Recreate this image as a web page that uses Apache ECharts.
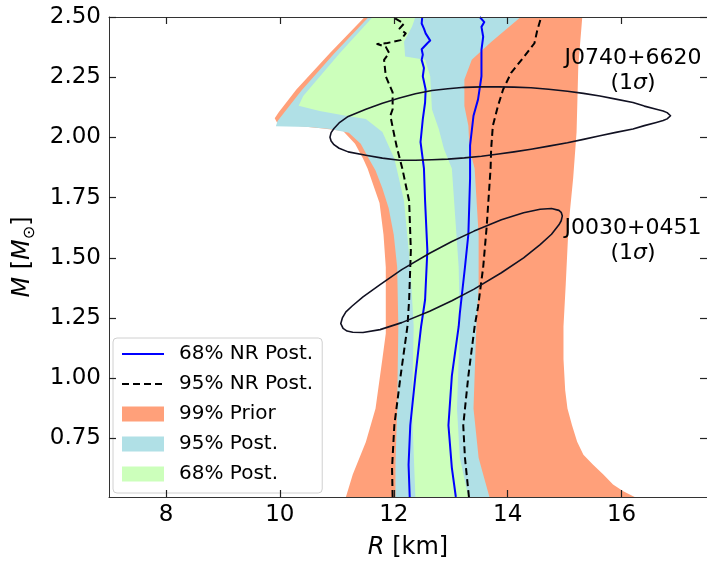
<!DOCTYPE html>
<html>
<head>
<meta charset="utf-8">
<script src="https://cdn.jsdelivr.net/npm/echarts@6/dist/echarts.min.js"></script>
<style>html,body{margin:0;padding:0;background:#fff}#c{width:707px;height:565px}</style>
</head>
<body>
<div id="c"></div>
<script>
// ---- tick labels ----
const xTicks = [8, 10, 12, 14, 16];
const yTicks = [0.75, 1.00, 1.25, 1.50, 1.75, 2.00, 2.25, 2.50];

// ---- 99% prior band [R, M] ----
const priorLeft = [[11.16,0.507],[11.28,0.600],[11.51,0.735],[11.68,0.874],[11.80,1.080],[11.86,1.186],[11.86,1.461],[11.82,1.596],[11.75,1.728],[11.66,1.789],[11.54,1.871],[11.46,1.912],[11.32,1.974],[11.11,2.027],[10.76,2.037],[10.24,2.050],[9.95,2.062],[9.91,2.080],[9.98,2.105],[10.29,2.199],[10.88,2.351],[11.49,2.500]];
const priorRight = [[16.23,0.507],[16.03,0.531],[15.85,0.559],[15.68,0.600],[15.50,0.641],[15.33,0.682],[15.22,0.736],[15.13,0.805],[15.05,0.874],[15.01,0.950],[14.98,1.080],[14.98,1.215],[15.02,1.391],[15.07,1.637],[15.15,1.830],[15.21,2.023],[15.24,2.294],[15.31,2.500]];

// ---- 95% posterior band ----
const post95Left = [[12.03,0.507],[12.03,0.641],[12.06,0.874],[12.08,1.215],[12.06,1.461],[12.00,1.596],[11.91,1.707],[11.80,1.789],[11.68,1.863],[11.56,1.912],[11.42,1.974],[11.21,2.019],[10.88,2.035],[10.50,2.043],[9.93,2.046],[9.96,2.068],[10.07,2.101],[10.38,2.195],[10.95,2.347],[11.56,2.500]];
const post95Right = [[13.68,0.507],[13.57,0.600],[13.49,0.670],[13.40,0.874],[13.45,1.215],[13.49,1.379],[13.49,1.596],[13.42,1.871],[13.33,1.953],[13.31,2.048],[13.24,2.130],[13.24,2.240],[13.37,2.322],[13.71,2.396],[14.23,2.500]];

// ---- 68% posterior band ----
const post68Left = [[12.38,0.507],[12.32,0.874],[12.35,1.215],[12.29,1.461],[12.18,1.736],[12.09,1.830],[12.01,1.912],[11.80,2.023],[11.51,2.076],[11.16,2.090],[10.70,2.110],[10.33,2.131],[10.41,2.172],[11.05,2.350],[11.63,2.500]];
const post68Right = [[13.31,0.507],[13.16,0.670],[13.11,0.874],[13.16,1.215],[13.14,1.461],[13.02,1.871],[12.88,1.953],[12.79,2.035],[12.67,2.117],[12.64,2.254],[12.55,2.322],[12.20,2.336],[12.18,2.397],[12.32,2.459],[12.38,2.500]];

// ---- NR posterior contours ----
const nr68Left = [[12.28,0.507],[12.26,0.641],[12.29,0.805],[12.38,1.010],[12.48,1.215],[12.55,1.326],[12.59,1.531],[12.55,1.736],[12.53,1.871],[12.47,1.981],[12.51,2.076],[12.55,2.145],[12.56,2.199],[12.51,2.254],[12.53,2.288],[12.49,2.322],[12.51,2.343],[12.49,2.366],[12.59,2.391],[12.64,2.402],[12.56,2.432],[12.53,2.452],[12.49,2.473],[12.50,2.500]];
const nr68Right = [[13.09,0.507],[13.02,0.628],[12.96,0.805],[13.02,1.010],[13.14,1.215],[13.16,1.270],[13.25,1.461],[13.31,1.598],[13.34,1.830],[13.34,1.967],[13.40,2.090],[13.48,2.158],[13.54,2.254],[13.54,2.363],[13.57,2.418],[13.54,2.459],[13.59,2.479],[13.51,2.500]];
const nr95Left = [[11.98,0.507],[11.97,0.628],[12.01,0.805],[12.12,1.010],[12.24,1.215],[12.27,1.326],[12.30,1.531],[12.27,1.736],[12.15,1.871],[12.06,1.953],[12.01,2.008],[11.94,2.090],[11.98,2.117],[11.98,2.187],[11.86,2.254],[11.83,2.322],[11.92,2.350],[11.86,2.376],[11.71,2.388],[11.89,2.392],[12.12,2.404],[12.21,2.432],[12.10,2.452],[12.18,2.473],[12.03,2.493],[12.01,2.500]];
const nr95Right = [[13.32,0.507],[13.25,0.670],[13.22,0.805],[13.31,1.010],[13.42,1.215],[13.48,1.297],[13.57,1.461],[13.63,1.625],[13.70,1.871],[13.71,1.953],[13.74,2.049],[13.83,2.131],[13.92,2.199],[14.06,2.268],[14.29,2.336],[14.47,2.391],[14.52,2.445],[14.58,2.493],[14.60,2.500]];

// ---- NICER 1-sigma contours (closed outlines, traced) ----
const j0740 = [[13.84,2.210],[14.11,2.209],[14.41,2.206],[14.72,2.200],[15.05,2.192],[15.33,2.183],[15.62,2.172],[15.90,2.159],[16.20,2.145],[16.40,2.130],[16.61,2.117],[16.73,2.110],[16.80,2.103],[16.86,2.090],[16.80,2.077],[16.73,2.070],[16.61,2.062],[16.40,2.049],[16.20,2.035],[15.90,2.021],[15.62,2.007],[15.33,1.992],[15.05,1.978],[14.72,1.964],[14.41,1.951],[14.11,1.940],[13.84,1.931],[13.54,1.922],[13.24,1.915],[12.95,1.910],[12.67,1.907],[12.38,1.905],[12.10,1.905],[11.80,1.914],[11.51,1.926],[11.20,1.940],[11.04,1.955],[10.95,1.970],[10.90,1.985],[10.88,2.001],[10.90,2.020],[10.95,2.037],[11.04,2.060],[11.20,2.087],[11.51,2.117],[11.80,2.142],[12.10,2.164],[12.38,2.181],[12.67,2.195],[12.95,2.202],[13.24,2.208],[13.54,2.210],[13.84,2.210]];
const j0030 = [[13.02,1.568],[13.41,1.611],[13.89,1.658],[14.28,1.687],[14.57,1.702],[14.77,1.705],[14.90,1.697],[14.94,1.689],[14.96,1.674],[14.94,1.654],[14.90,1.637],[14.77,1.598],[14.57,1.555],[14.28,1.500],[13.89,1.438],[13.41,1.370],[13.02,1.322],[12.63,1.278],[12.14,1.231],[11.76,1.202],[11.46,1.190],[11.28,1.191],[11.18,1.196],[11.11,1.207],[11.07,1.227],[11.10,1.252],[11.16,1.276],[11.27,1.300],[11.46,1.338],[11.76,1.389],[12.14,1.451],[12.63,1.519],[13.02,1.568]];

const FONT = 'DejaVu Sans';
const band = (l, r) => l.concat(r.slice().reverse());

function polySeries(name, pts, color, z) {
  return {
    name: name, type: 'custom', z: z, data: pts,
    itemStyle: { color: color },
    renderItem: function (params, api) {
      if (params.dataIndex !== 0) return;
      return { type: 'polygon', shape: { points: pts.map(p => api.coord(p)) }, style: { fill: color } };
    }
  };
}
function lineSeries(name, pts, color, type, width, z) {
  return {
    name: name, type: 'line', data: pts, symbol: 'none', showSymbol: false, z: z,
    smooth: false,
    itemStyle: { color: color },
    lineStyle: { color: color, width: width, type: type, join: 'round' },
    silent: true
  };
}

const chart = echarts.init(document.getElementById('c'), null, { renderer: 'canvas' });
chart.setOption({
  animation: false,
  backgroundColor: '#fff',
  grid: { left: 103, top: 17, width: 605, height: 486, containLabel: false },
  xAxis: [{
    type: 'value', min: 7, max: 17.5, position: 'bottom', z: 10,
    axisLine: { show: true, lineStyle: { color: '#333', width: 1 } },
    axisTick: { show: true, inside: true, length: 7, customValues: xTicks, lineStyle: { color: '#222', width: 1.2 } },
    axisLabel: { show: true, customValues: xTicks, margin: 7, fontSize: 23, fontFamily: FONT, color: '#000' },
    splitLine: { show: false },
    name: '{i|R} [km]', nameLocation: 'middle', nameGap: 39,
    nameTextStyle: { fontSize: 24, fontFamily: FONT, color: '#000', rich: { i: { fontSize: 24, fontStyle: 'italic', fontFamily: FONT, color: '#000' } } }
  }, {
    type: 'value', min: 7, max: 17.5, position: 'top', z: 10,
    axisLine: { show: true, lineStyle: { color: '#333', width: 1 } },
    axisTick: { show: true, inside: true, length: 7, customValues: xTicks, lineStyle: { color: '#222', width: 1.2 } },
    axisLabel: { show: false }, splitLine: { show: false }
  }],
  yAxis: [{
    type: 'value', min: 0.507, max: 2.5, position: 'left', z: 10,
    axisLine: { show: true, lineStyle: { color: '#333', width: 1 } },
    axisTick: { show: true, inside: true, length: 7, customValues: yTicks, lineStyle: { color: '#222', width: 1.2 } },
    axisLabel: { show: true, customValues: yTicks, margin: 8, fontSize: 23, fontFamily: FONT, color: '#000', formatter: v => Number(v).toFixed(2) },
    splitLine: { show: false },
    name: '{i|M} [{i|M}{s|⊙}]', nameLocation: 'middle', nameGap: 71, nameRotate: 90,
    nameTextStyle: { fontSize: 24, fontFamily: FONT, color: '#000', lineHeight: 30,
      rich: { i: { fontSize: 24, fontStyle: 'italic', fontFamily: FONT, color: '#000', lineHeight: 30 },
              s: { fontSize: 16, fontFamily: FONT, color: '#000', verticalAlign: 'bottom', lineHeight: 16 } } }
  }, {
    type: 'value', min: 0.507, max: 2.5, position: 'right', z: 10,
    axisLine: { show: true, lineStyle: { color: '#333', width: 1 } },
    axisTick: { show: true, inside: true, length: 7, customValues: yTicks, lineStyle: { color: '#222', width: 1.2 } },
    axisLabel: { show: false }, splitLine: { show: false }
  }],
  legend: {
    left: 113, top: 338, orient: 'vertical',
    backgroundColor: 'rgba(255,255,255,0.85)', borderColor: '#d0d0d0', borderWidth: 1, borderRadius: 4,
    padding: [6, 9, 9, 8], itemWidth: 42, itemHeight: 15, itemGap: 10,
    textStyle: { fontSize: 20, fontFamily: FONT, color: '#000', lineHeight: 20, padding: [0, 0, 0, 10] },
    data: [
      { name: '68% NR Post.', itemStyle: { opacity: 0 } },
      { name: '95% NR Post.', itemStyle: { opacity: 0 } },
      { name: '99% Prior', icon: 'rect' },
      { name: '95% Post.', icon: 'rect' },
      { name: '68% Post.', icon: 'rect' }
    ],
    selectedMode: false
  },
  series: [
    polySeries('99% Prior', band(priorLeft, priorRight), '#FFA07A', 2),
    polySeries('95% Post.', band(post95Left, post95Right), '#B0E0E6', 3),
    polySeries('68% Post.', band(post68Left, post68Right), '#CCFFBB', 4),
    lineSeries('68% NR Post.', nr68Left, '#0000FF', 'solid', 2, 5),
    lineSeries('68% NR Post.', nr68Right, '#0000FF', 'solid', 2, 5),
    lineSeries('95% NR Post.', nr95Left, '#000000', [7, 4], 2, 5),
    lineSeries('95% NR Post.', nr95Right, '#000000', [7, 4], 2, 5),
    lineSeries('J0740+6620', j0740, '#111122', 'solid', 1.6, 6),
    lineSeries('J0030+0451', j0030, '#111122', 'solid', 1.6, 6)
  ],
  graphic: [
    { type: 'text', x: 633, y: 46, z: 20,
      style: { text: 'J0740+6620\n(1{i|σ})', fontSize: 22, fontFamily: FONT, fill: '#000', align: 'center', verticalAlign: 'top', lineHeight: 25,
        rich: { i: { fontSize: 22, fontStyle: 'italic', fontFamily: FONT, fill: '#000', lineHeight: 25 } } } },
    { type: 'text', x: 633, y: 216, z: 20,
      style: { text: 'J0030+0451\n(1{i|σ})', fontSize: 22, fontFamily: FONT, fill: '#000', align: 'center', verticalAlign: 'top', lineHeight: 25,
        rich: { i: { fontSize: 22, fontStyle: 'italic', fontFamily: FONT, fill: '#000', lineHeight: 25 } } } }
  ]
});
</script>
</body>
</html>
